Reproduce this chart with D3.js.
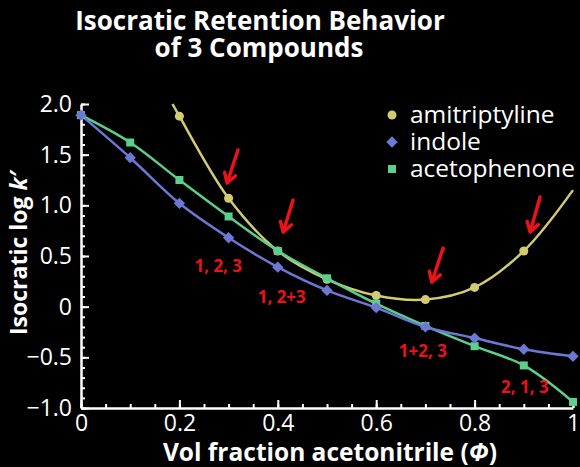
<!DOCTYPE html>
<html>
<head>
<meta charset="UTF-8">
<title>Isocratic Retention Behavior</title>
<script src="https://cdn.jsdelivr.net/npm/d3@7"></script>
<style>
	body { margin: 0; background: #000; }
	svg { display: block; }
	text { font-family: "Open Sans", sans-serif; fill: #fff; }
</style>
</head>
<body>
<div id="chart"></div>
<script>
// volume fraction of acetonitrile
var phi = [0, 0.1, 0.2, 0.3, 0.4, 0.5, 0.6, 0.7, 0.8, 0.9, 1.0];
// log k' per compound (null = no point measured)
var amitriptyline = [null, null, 1.88, 1.07, 0.55, 0.27, 0.11, 0.07, 0.19, 0.55, null];
var indole        = [1.89, 1.47, 1.02, 0.68, 0.39, 0.16, -0.01, -0.20, -0.31, -0.42, -0.49];
var acetophenone  = [1.89, 1.62, 1.25, 0.89, 0.55, 0.28, 0.03, -0.19, -0.39, -0.58, -0.94];
// fitted amitriptyline curve runs past the measured points
var amiFitPhi  = [0.186, 1.0];
var amiFitLogK = [2.0, 1.15];

var compounds = ["amitriptyline", "indole", "acetophenone"];
var colors = ["#d2cb72", "#6d77d4", "#5ccf8c"];

var xTicks = [0, 0.2, 0.4, 0.6, 0.8, 1];
var yTicks = [-1, -0.5, 0, 0.5, 1, 1.5, 2];

// elution-order notes and arrows, in data units
var noteText = ["1, 2, 3", "1, 2+3", "1+2, 3", "2, 1, 3"];
var notePhi  = [0.279, 0.408, 0.695, 0.902];
var noteLogK = [0.341, 0.036, -0.498, -0.853];
var arrowTail = [[0.319, 1.546], [0.431, 1.052], [0.736, 0.578], [0.933, 1.082]];
var arrowTip  = [[0.297, 1.22], [0.411, 0.736], [0.713, 0.243], [0.913, 0.736]];

var W = 580, H = 467;
var svg = d3.select("#chart").append("svg")
	.attr("width", W).attr("height", H);
svg.append("rect").attr("width", W).attr("height", H).attr("fill", "#000");

var x = d3.scaleLinear().domain([0, 1]).range([81, 573]);
var y = d3.scaleLinear().domain([-1, 2]).range([408, 104]);

// title
var title = svg.append("text")
	.attr("text-anchor", "middle")
	.style("font-weight", "bold").style("font-size", "26px");
title.append("tspan").attr("x", 260).attr("y", 30).text("Isocratic Retention Behavior");
title.append("tspan").attr("x", 259).attr("y", 57).text("of 3 Compounds");

// minor ticks
svg.append("g").attr("transform", "translate(0,408)")
	.call(d3.axisBottom(x).tickValues(d3.range(0, 1.001, 0.05)).tickSize(-4).tickFormat(""))
	.call(function(g){ g.select(".domain").remove(); g.selectAll("line").attr("stroke", "#fff").attr("stroke-width", 2); });
svg.append("g").attr("transform", "translate(81,0)")
	.call(d3.axisLeft(y).tickValues(d3.range(-10, 20.5, 1).map(function(d){return d / 10;})).tickSize(-4).tickFormat(""))
	.call(function(g){ g.select(".domain").remove(); g.selectAll("line").attr("stroke", "#fff").attr("stroke-width", 2); });

// major axes
var xAxis = d3.axisBottom(x).tickValues(xTicks).tickSizeInner(-8).tickSizeOuter(0).tickPadding(7)
	.tickFormat(function(d){ return d === 0 || d === 1 ? String(d) : d3.format(".1f")(d); });
var yAxis = d3.axisLeft(y).tickValues(yTicks).tickSizeInner(-8).tickSizeOuter(0).tickPadding(9)
	.tickFormat(function(d){ return d === 0 ? "0" : d3.format(".1f")(d); });

function styleAxis(g){
	g.select(".domain").attr("stroke", "#fff").attr("stroke-width", 2.5);
	g.selectAll("line").attr("stroke", "#fff").attr("stroke-width", 2);
	g.selectAll("text").attr("fill", "#fff").style("font-size", "23px").style("font-family", "'Open Sans', sans-serif");
}
svg.append("g").attr("transform", "translate(0,408)").call(xAxis).call(styleAxis);
svg.append("g").attr("transform", "translate(81,0)").call(yAxis).call(styleAxis);

// axis titles
var xt = svg.append("text").attr("x", 330).attr("y", 461).attr("text-anchor", "middle")
	.style("font-weight", "bold").style("font-size", "24.5px");
xt.append("tspan").text("Vol fraction acetonitrile (");
xt.append("tspan").style("font-style", "italic").text("\u03A6");
xt.append("tspan").text(")");

var yt = svg.append("text").attr("transform", "translate(27,253) rotate(-90)").attr("text-anchor", "middle")
	.style("font-weight", "bold").style("font-size", "23px");
yt.append("tspan").text("Isocratic log ");
yt.append("tspan").style("font-style", "italic").text("k\u2032");

// series
var series = [amitriptyline, indole, acetophenone].map(function(vals, i){
	var pts = [];
	phi.forEach(function(p, j){ if (vals[j] !== null) pts.push([p, vals[j]]); });
	return {name: compounds[i], color: colors[i], pts: pts};
});
var amiCurve = [[amiFitPhi[0], amiFitLogK[0]]].concat(series[0].pts, [[amiFitPhi[1], amiFitLogK[1]]]);

var line = d3.line()
	.x(function(d){ return x(d[0]); })
	.y(function(d){ return y(d[1]); })
	.curve(d3.curveCatmullRom.alpha(0.5));

svg.append("path").attr("d", line(amiCurve)).attr("fill", "none").attr("stroke", colors[0]).attr("stroke-width", 2.5);
svg.append("path").attr("d", line(series[2].pts)).attr("fill", "none").attr("stroke", colors[2]).attr("stroke-width", 2.5);
svg.append("path").attr("d", line(series[1].pts)).attr("fill", "none").attr("stroke", colors[1]).attr("stroke-width", 2.5);

// circle, diamond (rotated square), square
var symbols = [d3.symbolCircle, d3.symbolSquare, d3.symbolSquare];
var sizes = [64, 64, 64];
var rot = [0, 45, 0];
function markerTransform(px, py, i){
	return "translate(" + px + "," + py + ") rotate(" + rot[i] + ")";
}
[0, 2, 1].forEach(function(i){
	svg.append("g").selectAll("path").data(series[i].pts).enter().append("path")
		.attr("transform", function(d){ return markerTransform(x(d[0]), y(d[1]), i); })
		.attr("d", d3.symbol().type(symbols[i]).size(sizes[i]))
		.attr("fill", colors[i]);
});

// legend
var legend = svg.append("g");
compounds.forEach(function(name, i){
	var ly = 115 + i * 27;
	legend.append("path").attr("transform", markerTransform(392, ly, i))
		.attr("d", d3.symbol().type(symbols[i]).size(sizes[i])).attr("fill", colors[i]);
	legend.append("text").attr("x", 410).attr("y", ly + 8).style("font-size", "24.5px").text(name);
});

// arrows
var red = "#e8141a";
arrowTail.forEach(function(t, i){
	var x0 = x(t[0]), y0 = y(t[1]), x1 = x(arrowTip[i][0]), y1 = y(arrowTip[i][1]);
	var ang = Math.atan2(y1 - y0, x1 - x0), L = 11, spread = 0.55;
	var a1 = [x1 - L * Math.cos(ang - spread), y1 - L * Math.sin(ang - spread)];
	var a2 = [x1 - L * Math.cos(ang + spread), y1 - L * Math.sin(ang + spread)];
	svg.append("path")
		.attr("d", "M" + x0 + "," + y0 + "L" + x1 + "," + y1 + "M" + a1 + "L" + x1 + "," + y1 + "L" + a2)
		.attr("fill", "none").attr("stroke", red).attr("stroke-width", 3.5).attr("stroke-linecap", "round").attr("stroke-linejoin", "round");
});

// elution order labels
svg.append("g").selectAll("text").data(noteText).enter().append("text")
	.attr("x", function(d, i){ return x(notePhi[i]); })
	.attr("y", function(d, i){ return y(noteLogK[i]); })
	.attr("text-anchor", "middle")
	.style("font-weight", "bold").style("font-size", "17px")
	.style("fill", red)
	.text(function(d){ return d; });
</script>
</body>
</html>
